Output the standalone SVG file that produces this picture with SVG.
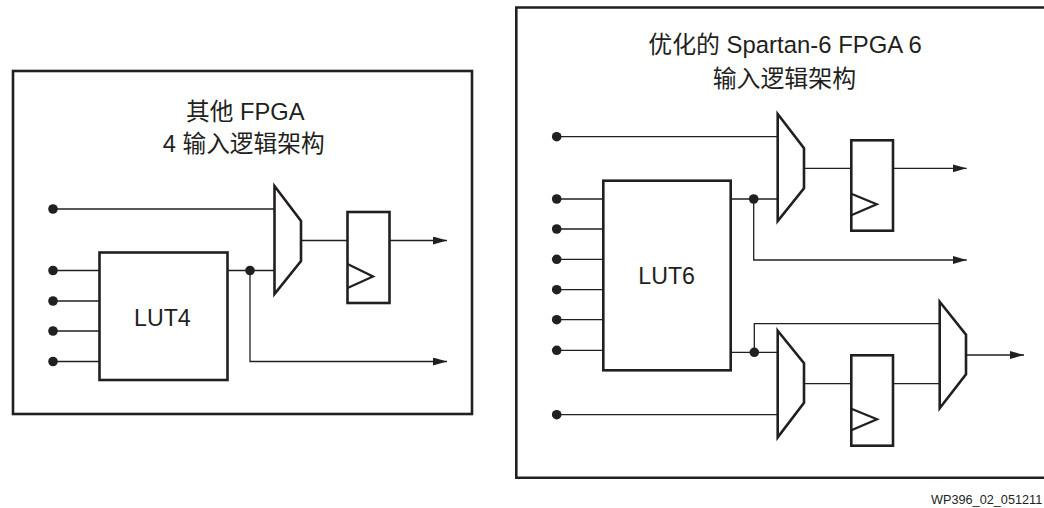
<svg xmlns="http://www.w3.org/2000/svg" width="1044" height="508" viewBox="0 0 1044 508">
<defs>
<style>
.t{font-family:"Liberation Sans","Noto Sans CJK SC",sans-serif;font-size:23.700px;fill:#231f20}
.r{font-size:23.900px}
.l{font-size:23.200px}
.b{fill:#fff;stroke:#231f20;stroke-width:2.6;stroke-linejoin:miter}
.w{fill:none;stroke:#231f20;stroke-width:1.3}
.d{fill:#231f20}
.clk{fill:none;stroke:#231f20;stroke-width:2.3}
</style>
<marker id="a" markerUnits="userSpaceOnUse" markerWidth="14" markerHeight="8" refX="14" refY="4" orient="auto"><path d="M0 0L14 4L0 8Z" fill="#231f20"/></marker>
</defs>
<rect width="1044" height="508" fill="#fff"/>
<g id="panel-left"><rect class="b" x="13" y="71" width="459" height="343"/>
<text class="t" x="186" y="120">其他 FPGA</text>
<text class="t" x="162.700" y="152.300">4 输入逻辑架构</text></g>
<g id="panel-right"><path class="b" d="M1046 7.500H516.300V477.700H1046"/>
<text class="t r" x="648.300" y="53.300">优化的 Spartan-6 FPGA 6</text>
<text class="t r" x="712.700" y="86.500">输入逻辑架构</text></g>
<g id="connectors">
<path class="w" d="M53 209H275M53 270.500H100M53 301H100M53 331H100M53 361.500H100M227 270.500H275M301 240.500H348"/>
<path class="w" d="M389 240.500H447" marker-end="url(#a)"/>
<path class="w" d="M250 270.500V361.500H447" marker-end="url(#a)"/>
<path class="w" d="M556.700 136.700H778M556.700 199H604M556.700 229H604M556.700 259.300H604M556.700 289.700H604M556.700 319.700H604M556.700 350.300H604M556.700 414.700H778M730 199H778M804 168.300H852M730 352.300H778M754.300 352.300V323.700H940M804 383.700H852M893 383.700H940"/>
<path class="w" d="M893 168.300H966.700" marker-end="url(#a)"/>
<path class="w" d="M753.700 199V260H966.700" marker-end="url(#a)"/>
<path class="w" d="M966 355H1024" marker-end="url(#a)"/>
<g class="d"><circle cx="53" cy="209" r="4.800"/><circle cx="53" cy="270.500" r="4.800"/><circle cx="53" cy="301" r="4.800"/><circle cx="53" cy="331" r="4.800"/><circle cx="53" cy="361.500" r="4.800"/><circle cx="250" cy="270.500" r="4.800"/>
<circle cx="556.700" cy="136.700" r="4.800"/><circle cx="556.700" cy="199" r="4.800"/><circle cx="556.700" cy="229" r="4.800"/><circle cx="556.700" cy="259.300" r="4.800"/><circle cx="556.700" cy="289.700" r="4.800"/><circle cx="556.700" cy="319.700" r="4.800"/><circle cx="556.700" cy="350.300" r="4.800"/><circle cx="556.700" cy="414.700" r="4.800"/><circle cx="753.700" cy="199" r="4.800"/><circle cx="754.300" cy="352.300" r="4.800"/></g>
</g>
<g id="lut4"><rect class="b" x="99.500" y="252.500" width="128" height="127.500"/><text class="t l" x="134" y="325.500">LUT4</text></g>
<g id="mux-l"><path class="b" d="M274.500 186L301 221V261L274.500 294Z"/></g>
<g id="ff-l"><rect class="b" x="347.500" y="212" width="42" height="91"/><path class="clk" d="M347.500 264L373 276.500L347.500 288"/></g>
<g id="lut6"><rect class="b" x="603.300" y="180.700" width="127.400" height="189.600"/><text class="t l" x="638.300" y="284.300">LUT6</text></g>
<g id="mux-r1"><path class="b" d="M777.700 114L804 148.300V188.300L777.700 221Z"/></g>
<g id="ff-r1"><rect class="b" x="851.300" y="140.300" width="41.700" height="90.400"/><path class="clk" d="M851.300 193.700L876.700 204.300L851.300 215.300"/></g>
<g id="mux-r2"><path class="b" d="M777.700 330.700L804 363.300V402.700L777.700 437.300Z"/></g>
<g id="ff-r2"><rect class="b" x="851.300" y="355.300" width="41.700" height="90.400"/><path class="clk" d="M851.300 408.700L877 419.300L851.300 430.300"/></g>
<g id="mux-r3"><path class="b" d="M939.700 301.700L966 334.700V374.300L939.700 408.300Z"/></g>
<text x="931" y="504.300" style="font-family:'Liberation Sans',sans-serif;font-size:12.700px;fill:#231f20">WP396_02_051211</text>
</svg>
